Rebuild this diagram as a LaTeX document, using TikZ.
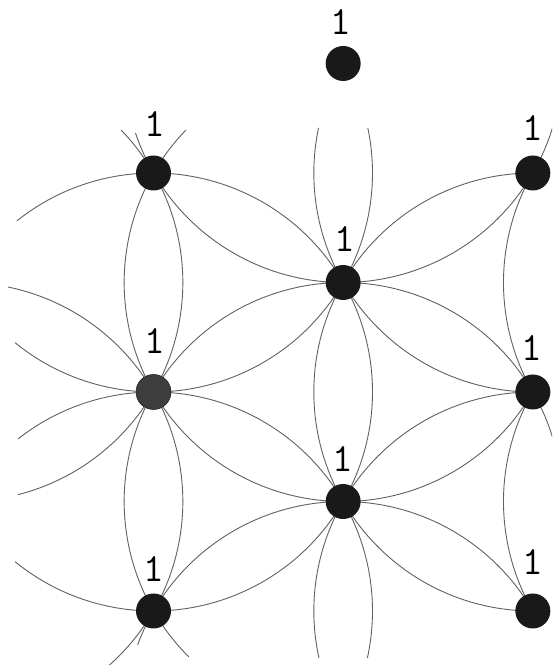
\documentclass[tikz,border=0pt]{standalone}
\usepackage{fontspec}
\newcommand\lensarc[3]{\draw[arcline] (#1) ++(#2:219pt) arc[start angle=#2,end angle=#3,radius=219pt];}
\begin{document}
\begin{tikzpicture}[x=1pt,y=1pt,
  arcline/.style={line width=0.9pt, draw=black!62},
  dot/.style={circle, fill=black!90, minimum size=35pt, inner sep=0pt},
  greydot/.style={dot, fill=black!76, draw=black!85, line width=0.6pt},
  lbl/.style={font=\fontsize{40}{40}\selectfont\ttfamily, inner sep=0pt}]
\useasboundingbox (0,0) rectangle (552,668);
\fill[white] (0,0) rectangle (552,668);
\clip (0,0) rectangle (552,668);
% lattice points (centres of circles)
\coordinate (pB) at (153.5,495);
\coordinate (pE) at (153.5,276);
\coordinate (pH) at (153.5,57);
\coordinate (pA) at (343.16,604.5);
\coordinate (pD) at (343.16,385.5);
\coordinate (pG) at (343.16,166.5);
\coordinate (pGp) at (343.16,-52.5);
\coordinate (pC) at (532.82,495);
\coordinate (pF) at (532.82,276);
\coordinate (pI) at (532.82,57);
\coordinate (pL1) at (-36.16,385.5);
\coordinate (pL2) at (-36.16,166.5);
\coordinate (pR1) at (722.48,385.5);
\coordinate (pR2) at (722.48,166.5);
% full lenses
\lensarc{pA}{-150}{-90}  \lensarc{pE}{30}{90}
\lensarc{pB}{-90}{-30}   \lensarc{pG}{90}{150}
\lensarc{pD}{-150}{-90}  \lensarc{pH}{30}{90}
\lensarc{pE}{-90}{-30}   \lensarc{pGp}{90}{150}
\lensarc{pL1}{-30}{30}   \lensarc{pD}{150}{210}
\lensarc{pL2}{-30}{30}   \lensarc{pG}{150}{210}
\lensarc{pE}{-30}{30}    \lensarc{pF}{150}{210}
\lensarc{pA}{-90}{-30}   \lensarc{pF}{90}{150}
\lensarc{pC}{-150}{-90}  \lensarc{pG}{30}{90}
\lensarc{pD}{-90}{-30}   \lensarc{pI}{90}{150}
\lensarc{pF}{-150}{-90}  \lensarc{pGp}{30}{90}
\lensarc{pR1}{150}{210}
\lensarc{pR2}{150}{210}
% right edge stubs
\lensarc{pG}{0}{30}
\lensarc{pA}{-30}{0}
% top and bottom vertical lenses
\lensarc{pB}{-30}{11.9}  \lensarc{pC}{168.1}{210}
\lensarc{pH}{-12.4}{30}  \lensarc{pI}{150}{192.4}
% stubs above B
\lensarc{pL1}{30}{44.1}
\lensarc{pA}{198.5}{210}
\lensarc{pD}{135.9}{150}
% stubs below H
\lensarc{pL2}{-48.3}{-30}
\lensarc{pGp}{150}{159.8}
\lensarc{pG}{210}{225.2}
% left side arcs
\lensarc{pE}{90}{128.6}
\lensarc{pB}{-129.2}{-90}
\lensarc{pL2}{30}{78.4}
\lensarc{pL1}{-75.7}{-30}
\lensarc{pH}{90}{128.2}
\lensarc{pE}{-129.2}{-90}
% dots
\node[dot] (A) at (pA) {};
\node[dot] (B) at (pB) {};
\node[dot] (C) at (pC) {};
\node[dot] (D) at (pD) {};
\node[greydot] (E) at (pE) {};
\node[dot] (F) at (pF) {};
\node[dot] (G) at (pG) {};
\node[dot] (H) at (pH) {};
\node[dot] (I) at (pI) {};
% labels
\node[lbl] (lA) at (341,645.5) {1};
\node[lbl] (lB) at (155,544) {1};
\node[lbl] (lC) at (533,540) {1};
\node[lbl] (lD) at (345,429) {1};
\node[lbl] (lE) at (155,326.5) {1};
\node[lbl] (lF) at (532,319.5) {1};
\node[lbl] (lG) at (343,209) {1};
\node[lbl] (lH) at (154,99) {1};
\node[lbl] (lI) at (533,106) {1};
\end{tikzpicture}
\end{document}
